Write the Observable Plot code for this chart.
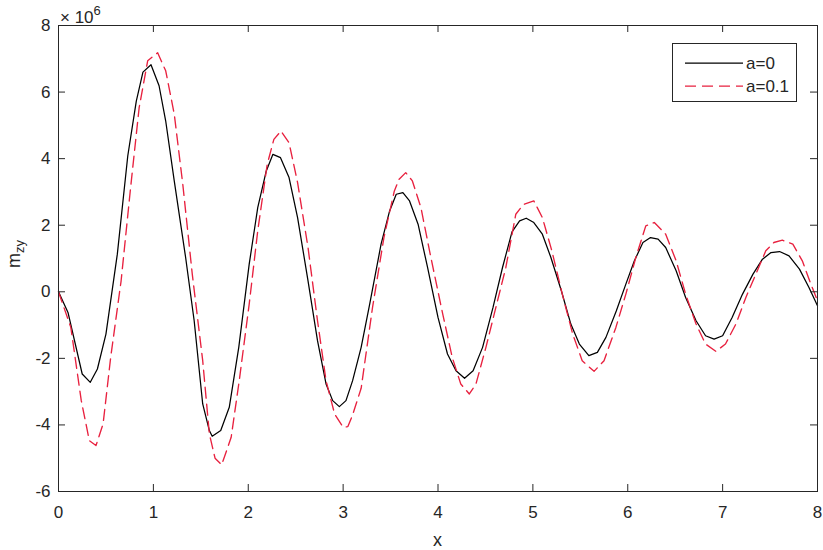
<!DOCTYPE html>
<html>
<head>
<meta charset="utf-8">
<script src="https://cdn.jsdelivr.net/npm/d3@7"></script>
<script src="https://cdn.jsdelivr.net/npm/@observablehq/plot@0.6"></script>
<style>
  html, body { margin: 0; padding: 0; background: #fff; }
  #chart svg { display: block; }
</style>
</head>
<body>
<div id="chart"></div>
<script>
// ---- data (y in units of 10^6) ----
const xTicks = [0, 1, 2, 3, 4, 5, 6, 7, 8];
const yTicks = [-6, -4, -2, 0, 2, 4, 6, 8];
const seriesNames = ["a=0", "a=0.1"];
const yExponentLabel = "6";

// a = 0 (black solid)
const xA0 = [0, 0.1, 0.25, 0.335, 0.41, 0.5, 0.62, 0.73, 0.82, 0.89, 0.975, 1.06, 1.13, 1.22, 1.34, 1.43, 1.52, 1.59, 1.62, 1.71, 1.8, 1.9, 2.01, 2.1, 2.19, 2.26, 2.34, 2.43, 2.52, 2.63, 2.73, 2.82, 2.89, 2.96, 3.03, 3.1, 3.19, 3.28, 3.4, 3.49, 3.56, 3.63, 3.7, 3.79, 3.89, 4.0, 4.1, 4.19, 4.28, 4.37, 4.47, 4.58, 4.68, 4.78, 4.86, 4.93, 5.01, 5.1, 5.19, 5.3, 5.4, 5.49, 5.59, 5.68, 5.77, 5.88, 5.98, 6.07, 6.16, 6.24, 6.32, 6.4, 6.51, 6.61, 6.72, 6.82, 6.91, 7.0, 7.1, 7.21, 7.32, 7.42, 7.51, 7.6, 7.7, 7.81, 7.91, 8.0];
const yA0 = [0, -0.62, -2.47, -2.72, -2.32, -1.27, 1.13, 4.08, 5.73, 6.6, 6.82, 6.19, 5.13, 3.33, 1.03, -0.87, -3.37, -4.17, -4.34, -4.17, -3.47, -1.67, 0.83, 2.53, 3.63, 4.13, 4.03, 3.43, 2.23, 0.33, -1.47, -2.77, -3.27, -3.45, -3.27, -2.67, -1.67, -0.37, 1.43, 2.43, 2.93, 2.98, 2.73, 2.03, 0.73, -0.77, -1.87, -2.37, -2.6, -2.37, -1.67, -0.47, 0.73, 1.8, 2.13, 2.21, 2.08, 1.73, 1.03, 0.03, -0.97, -1.57, -1.92, -1.82, -1.37, -0.57, 0.23, 0.93, 1.48, 1.63, 1.58, 1.33, 0.63, -0.17, -0.87, -1.32, -1.42, -1.32, -0.77, -0.07, 0.53, 0.98, 1.18, 1.21, 1.08, 0.68, 0.13, -0.42];

// a = 0.1 (red dashed)
const xA1 = [0, 0.13, 0.24, 0.325, 0.395, 0.47, 0.55, 0.66, 0.76, 0.85, 0.94, 1.045, 1.13, 1.22, 1.31, 1.41, 1.52, 1.59, 1.65, 1.72, 1.82, 1.905, 2.01, 2.1, 2.2, 2.27, 2.345, 2.43, 2.52, 2.63, 2.73, 2.82, 2.91, 3.0, 3.05, 3.1, 3.19, 3.31, 3.43, 3.54, 3.59, 3.66, 3.73, 3.82, 3.925, 4.05, 4.15, 4.24, 4.33, 4.4, 4.505, 4.61, 4.715, 4.82, 4.9, 5.01, 5.1, 5.2, 5.31, 5.42, 5.52, 5.645, 5.75, 5.875, 5.98, 6.085, 6.19, 6.28, 6.4, 6.51, 6.61, 6.72, 6.82, 6.93, 7.03, 7.14, 7.245, 7.35, 7.455, 7.54, 7.63, 7.74, 7.84, 7.93, 8.0];
const yA1 = [0, -1.07, -3.27, -4.47, -4.62, -3.97, -1.97, 0.33, 3.13, 5.53, 6.94, 7.18, 6.64, 5.34, 3.23, 0.53, -2.07, -4.27, -5.0, -5.2, -4.37, -2.67, -0.37, 1.83, 3.83, 4.58, 4.83, 4.48, 3.28, 1.33, -0.87, -2.67, -3.67, -4.07, -4.05, -3.7, -2.9, -0.47, 1.63, 3.03, 3.38, 3.58, 3.33, 2.53, 1.03, -0.67, -1.97, -2.77, -3.07, -2.77, -1.67, -0.47, 0.73, 2.33, 2.62, 2.73, 2.23, 1.23, -0.07, -1.27, -2.07, -2.39, -2.07, -1.07, -0.07, 1.03, 1.98, 2.08, 1.73, 0.93, -0.07, -0.97, -1.57, -1.79, -1.57, -0.97, -0.17, 0.53, 1.23, 1.48, 1.55, 1.43, 0.93, 0.23, -0.27];

// ---- layout / style ----
const W = 823, H = 550;
const mL = 58, mR = 6, mT = 25, mB = 59;
const plotW = W - mL - mR, plotH = H - mT - mB;
const axisColor = "#262626";
const font = "'Liberation Sans', Arial, Helvetica, sans-serif";
const redColor = "#e8213f";

const dataA0 = xA0.map((x, i) => ({x, y: yA0[i]}));
const dataA1 = xA1.map((x, i) => ({x, y: yA1[i]}));

const chart = Plot.plot({
  width: W, height: H,
  marginLeft: mL, marginRight: mR, marginTop: mT, marginBottom: mB,
  style: {fontFamily: font, fontSize: "17px", color: axisColor, background: "#fff"},
  x: {domain: [0, 8]},
  y: {domain: [-6, 8]},
  marks: [
    Plot.line(dataA0, {x: "x", y: "y", stroke: "#000", strokeWidth: 1.25}),
    Plot.line(dataA1, {x: "x", y: "y", stroke: redColor, strokeWidth: 1.35, strokeDasharray: "11,6"}),
    Plot.frame({stroke: axisColor, strokeWidth: 1}),
    Plot.tickX(xTicks, {x: d => d, insetTop: plotH - 7, stroke: axisColor}),
    Plot.tickX(xTicks, {x: d => d, insetBottom: plotH - 7, stroke: axisColor}),
    Plot.tickY(yTicks, {y: d => d, insetRight: plotW - 7, stroke: axisColor}),
    Plot.tickY(yTicks, {y: d => d, insetLeft: plotW - 7, stroke: axisColor}),
    Plot.axisX({ticks: xTicks, tickSize: 0, tickPadding: 14, tickFormat: d => String(d), label: null}),
    Plot.axisY({ticks: yTicks, tickSize: 0, tickPadding: 8, tickFormat: d => String(d), label: null})
  ]
});
document.getElementById("chart").appendChild(chart);

// ---- annotations: axis labels, exponent, legend ----
const svg = d3.select(chart);
const g = svg.append("g").attr("font-family", font).attr("fill", axisColor);

// x label
g.append("text").attr("x", mL + plotW / 2).attr("y", 546)
  .attr("text-anchor", "middle").attr("font-size", 18).text("x");

// y label m_zy
const yl = g.append("text")
  .attr("transform", `translate(20,${mT + plotH / 2 - 4}) rotate(-90)`)
  .attr("text-anchor", "middle").attr("font-size", 18);
yl.append("tspan").text("m");
yl.append("tspan").attr("font-size", 13).attr("dy", 4).text("zy");

// exponent ×10^6
const ex = g.append("text").attr("x", 60).attr("y", 23).attr("font-size", 17)
  .attr("text-anchor", "start");
ex.append("tspan").text("× 10");
ex.append("tspan").attr("font-size", 13).attr("dy", -8).text(yExponentLabel);

// legend
const lg = svg.append("g").attr("font-family", font).attr("text-anchor", "start");
lg.append("rect").attr("x", 672.5).attr("y", 43.5).attr("width", 124).attr("height", 58)
  .attr("fill", "#fff").attr("stroke", axisColor).attr("stroke-width", 1);
const rows = [
  {name: seriesNames[0], stroke: "#000", dash: null, y: 63},
  {name: seriesNames[1], stroke: redColor, dash: "11,6", y: 86}
];
rows.forEach(r => {
  lg.append("line").attr("x1", 685).attr("x2", 743).attr("y1", r.y).attr("y2", r.y)
    .attr("stroke", r.stroke).attr("stroke-width", 1.25)
    .attr("stroke-dasharray", r.dash);
  lg.append("text").attr("x", 746).attr("y", r.y).attr("dy", "0.35em")
    .attr("text-anchor", "start")
    .attr("font-size", 17).attr("fill", axisColor).text(r.name);
});
</script>
</body>
</html>
